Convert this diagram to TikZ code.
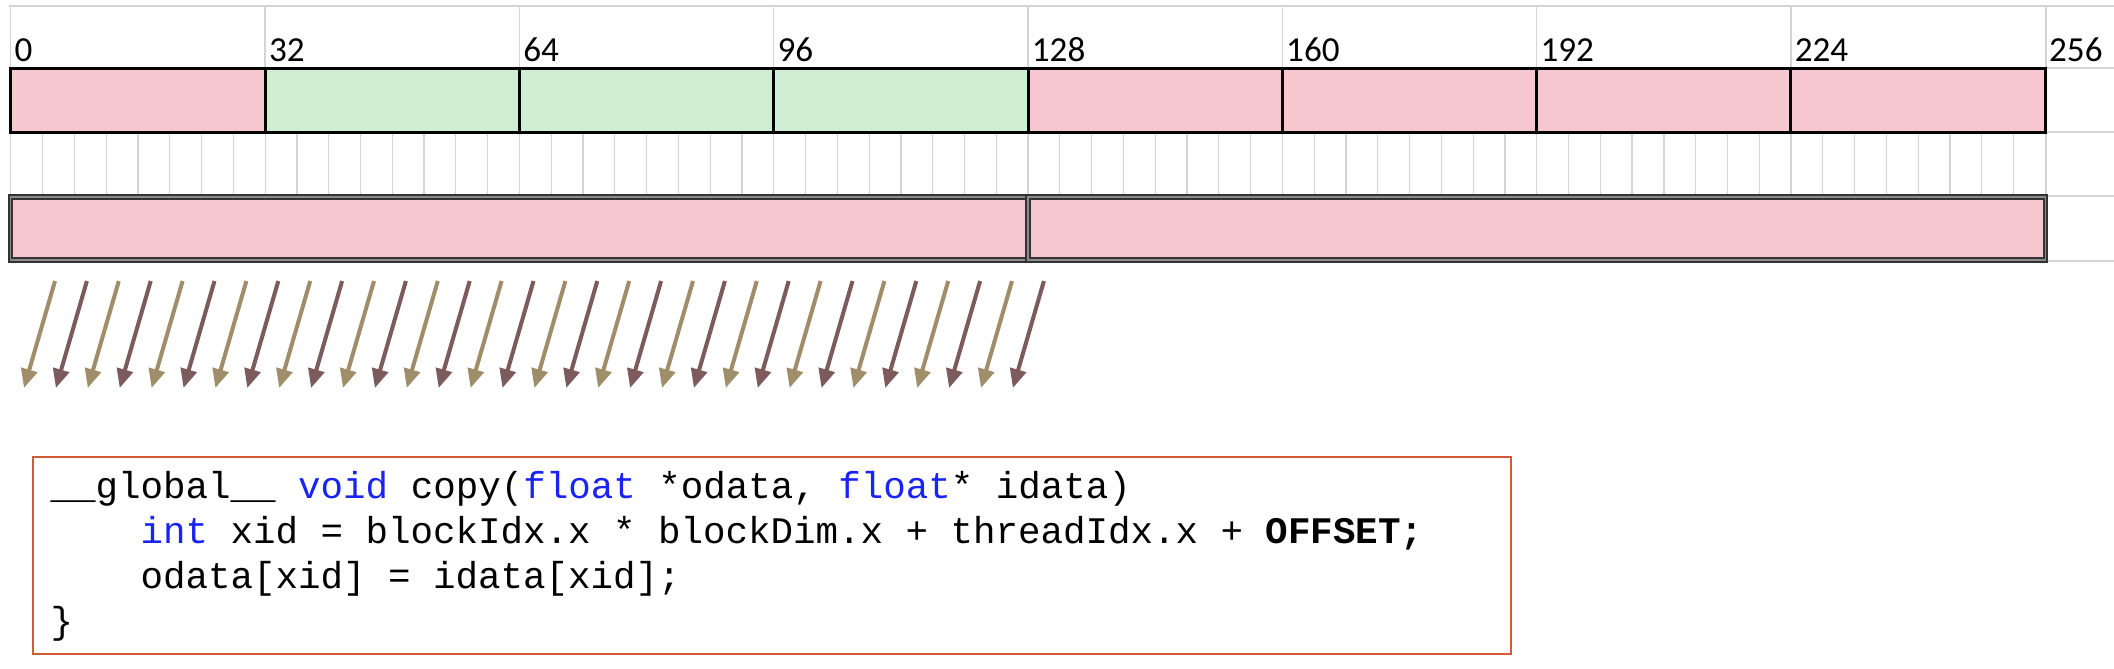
\documentclass[tikz,border=0pt]{standalone}
\usepackage{fontspec}
\setmonofont{Liberation Mono}
\newfontfamily\tickfont{Carlito}
\usepackage{xcolor}
\usetikzlibrary{arrows.meta}

\definecolor{pinkcell}{RGB}{246,199,206}
\definecolor{greencell}{RGB}{207,237,211}
\definecolor{tanarrow}{RGB}{160,141,106}
\definecolor{brownarrow}{RGB}{125,90,91}
\definecolor{boxred}{RGB}{210,92,56}
\definecolor{kwblue}{RGB}{25,35,245}
\definecolor{gridgray}{RGB}{212,212,212}

\tikzset{
  gridline/.style={draw=gridgray, line width=0.35pt},
  cell/.style={draw=black, line width=0.85pt, minimum width=25.43mm,
    minimum height=6.4mm, inner sep=0pt},
  halfcell/.style={draw=black!80, line width=0.6pt, double=black!45,
    double distance=0.3pt, minimum width=101.72mm,
    minimum height=6.3mm, inner sep=0pt, fill=pinkcell},
  tick/.style={anchor=west, inner sep=0pt, font=\tickfont\fontsize{10}{12}\selectfont},
  thread/.style={line width=1.15pt, -{Triangle[width=4.6pt, length=5.4pt]}},
  codebox/.style={draw=boxred, line width=0.6pt, minimum width=147.8mm,
    minimum height=19.7mm, inner sep=0pt},
  codeline/.style={anchor=base west, inner sep=0pt,
    font=\ttfamily\fontsize{10.67}{12.8}\selectfont}
}

\begin{document}
\begin{tikzpicture}[x=0.1mm, y=-0.1mm]

  \useasboundingbox (0,0) rectangle (2114,668);

  % Grid lines behind the bars
  \draw[gridline] (9,6) -- (2114,6);
  \foreach \y in {68,132,196,261}
    \draw[gridline] (2045,\y) -- (2114,\y);
  \draw[gridline] (2046,6) -- (2046,261);
  \foreach \k in {0,...,8}
    \draw[gridline] (10.8+254.3*\k,6) -- (10.8+254.3*\k,68);
  \foreach \k in {0,...,64}
    \draw[gridline] (10.8+31.79*\k,132) -- (10.8+31.79*\k,196);

  % Byte offsets
  \foreach \i in {0,...,8} {
    \pgfmathtruncatemacro\val{32*\i}
    \node[tick] (tick\i) at (14+254.3*\i,50) {\val};
  }

  % Memory segments: 8 segments of 32 bytes
  \foreach \i/\col in {0/pinkcell,1/greencell,2/greencell,3/greencell,
                       4/pinkcell,5/pinkcell,6/pinkcell,7/pinkcell}
    \node[cell, fill=\col] (seg\i) at (137.95+254.3*\i,100) {};

  % Memory segments: 2 segments of 128 bytes
  \foreach \j in {0,1}
    \node[halfcell] (half\j) at (519.4+1017.2*\j,228.5) {};

  % Threads of one warp
  \foreach \i in {0,...,31} {
    \ifodd\i \def\col{brownarrow}\else \def\col{tanarrow}\fi
    \coordinate (tail\i) at (55+31.9*\i,281);
    \coordinate (tip\i) at (24+31.9*\i,388);
    \draw[thread, draw=\col, fill=\col] (tail\i) -- (tip\i);
  }

  % Kernel code
  \node[codebox] (codebox) at (772,555.5) {};
  \node[codeline] (line1) at (50,498)
    {\_\_global\_\_ \textcolor{kwblue}{void} copy(\textcolor{kwblue}{float} *odata, \textcolor{kwblue}{float}* idata)};
  \node[codeline] (line2) at (140,543)
    {\textcolor{kwblue}{int} xid = blockIdx.x * blockDim.x + threadIdx.x + \textbf{OFFSET;}};
  \node[codeline] (line3) at (140,588) {odata[xid] = idata[xid];};
  \node[codeline] (line4) at (50,633) {\}};

\end{tikzpicture}
\end{document}
